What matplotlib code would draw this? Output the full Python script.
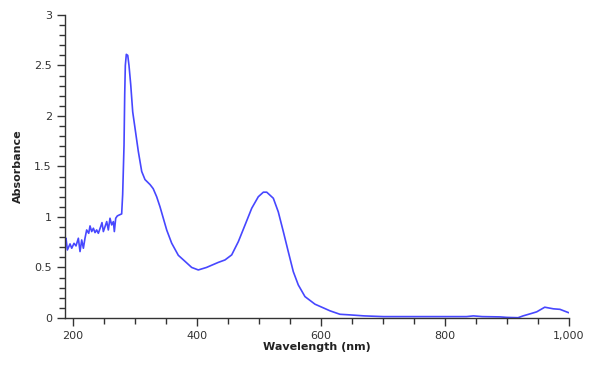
import matplotlib
matplotlib.use("Agg")
import matplotlib.pyplot as plt
import matplotlib.ticker as mtick

# wavelength (nm) and absorbance
wavelength = [
    188, 189.5, 191.7, 196, 198.7, 202.4, 205.6, 209.4, 212.1, 214.8, 217.5,
    220.1, 222.8, 226.1, 228.2, 230.9, 233.6, 236.3, 238.9, 241.6, 245.4,
    247.5, 249.7, 252.4, 255.1, 257.7, 260.4, 263.1, 265.8, 267.4, 269.6,
    272.2, 275.5, 279.2, 280.8, 283, 284.1, 285.1, 286.7, 289, 291, 293.8,
    297, 300.7, 306, 311.5, 316.8, 325, 330, 335.6, 341, 351.8, 359.8, 370.5,
    381.3, 392, 402.7, 416, 435, 445.7, 456.5, 467.2, 478, 488.8, 499.4,
    507.5, 513, 523.6, 531.6, 539.7, 547.7, 555.8, 563.8, 574.6, 590.7, 604,
    615, 631, 647, 670, 701, 760, 835, 846, 860, 889, 900, 918, 926, 940,
    948, 961, 975, 985.5, 999,
]
absorbance = [
    0.78, 0.789, 0.673, 0.733, 0.690, 0.739, 0.713, 0.789, 0.657, 0.772, 0.690,
    0.789, 0.871, 0.838, 0.911, 0.855, 0.888, 0.845, 0.871, 0.838, 0.904,
    0.944, 0.855, 0.904, 0.954, 0.871, 0.987, 0.921, 0.954, 0.855, 0.987,
    1.01, 1.02, 1.03, 1.22, 1.71, 2.21, 2.50, 2.61, 2.60, 2.50, 2.31,
    2.04, 1.88, 1.65, 1.45, 1.37, 1.32, 1.28, 1.20, 1.10, 0.87, 0.74, 0.62,
    0.56, 0.50, 0.475, 0.50, 0.55, 0.574, 0.624, 0.755, 0.92, 1.086, 1.20,
    1.245, 1.245, 1.185, 1.05, 0.855, 0.656, 0.458, 0.327, 0.211, 0.136, 0.10,
    0.07, 0.036, 0.03, 0.02, 0.013, 0.013, 0.013, 0.02, 0.013, 0.01, 0.005,
    0.002, 0.02, 0.045, 0.06, 0.106, 0.09, 0.085, 0.053,
]

x_ticks = [200, 400, 600, 800, 1000]
y_ticks = [0, 0.5, 1, 1.5, 2, 2.5, 3]


def main():
    fig = plt.figure(figsize=(5.97, 3.65), dpi=100)
    ax = fig.add_axes([0.109, 0.129, 0.844, 0.830])

    ax.plot(wavelength, absorbance, color="#4747ff", linewidth=1.2,
            solid_joinstyle="round")

    ax.set_xlim(188, 1000)
    ax.set_ylim(0, 3)
    ax.set_xticks(x_ticks)
    ax.set_yticks(y_ticks)
    ax.xaxis.set_minor_locator(mtick.MultipleLocator(50))
    ax.yaxis.set_minor_locator(mtick.MultipleLocator(0.1))
    ax.xaxis.set_major_formatter(mtick.StrMethodFormatter("{x:,.0f}"))
    ax.yaxis.set_major_formatter(mtick.FuncFormatter(lambda v, p: f"{v:g}"))

    for side in ("top", "right"):
        ax.spines[side].set_visible(False)
    for side in ("left", "bottom"):
        ax.spines[side].set_color("#333333")
        ax.spines[side].set_linewidth(1.0)

    ax.tick_params(which="major", length=6, width=1, color="#333333",
                   labelsize=8, labelcolor="#333333")
    ax.tick_params(which="minor", length=4, width=1, color="#333333")

    ax.set_xlabel("Wavelength (nm)", fontsize=8, fontweight="bold",
                  color="#222222", labelpad=1)
    ax.set_ylabel("Absorbance", fontsize=8, fontweight="bold",
                  color="#222222", labelpad=8)

    fig.savefig("out.png", dpi=100)


if __name__ == "__main__":
    main()
